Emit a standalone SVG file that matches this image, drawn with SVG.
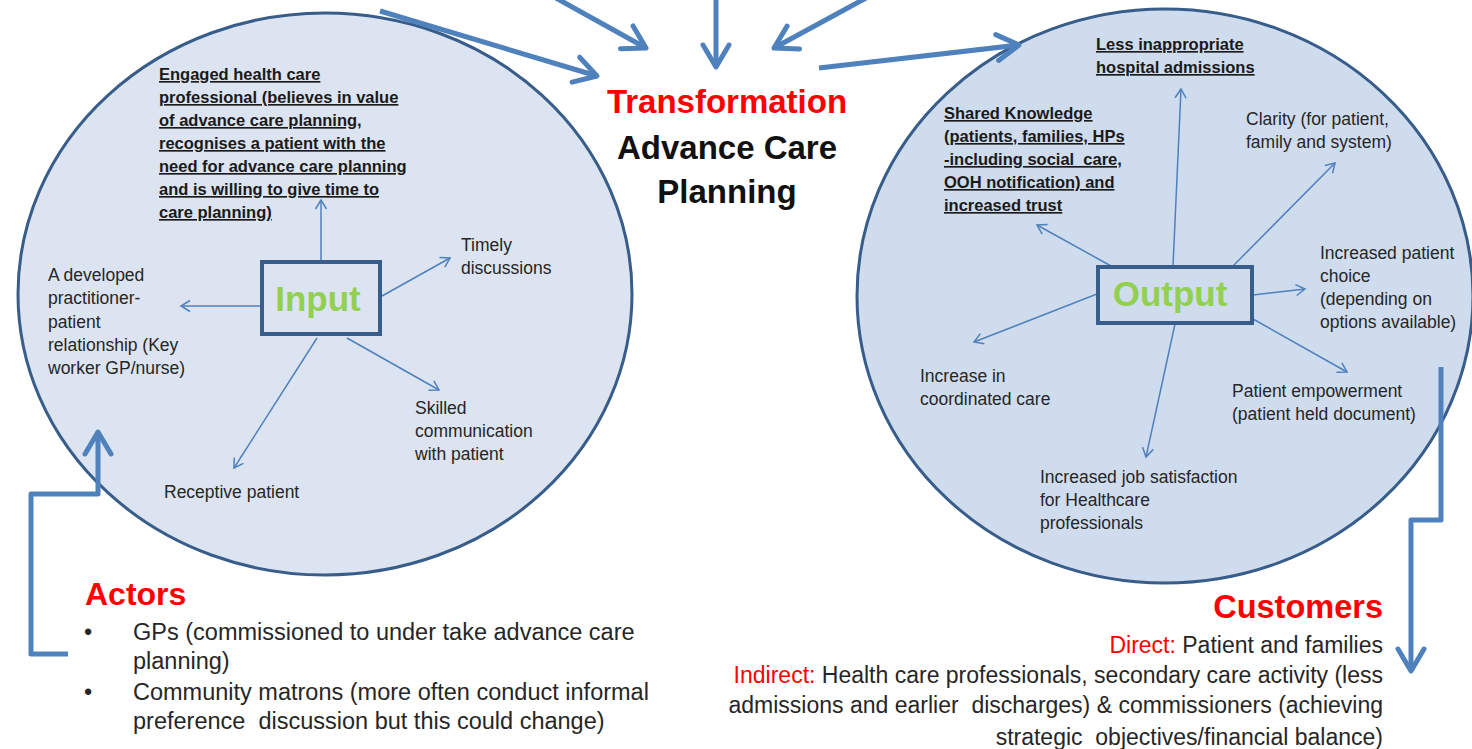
<svg xmlns="http://www.w3.org/2000/svg" width="1472" height="749" viewBox="0 0 1472 749">
<style>
.t{font-family:"Liberation Sans",Arial,sans-serif;font-size:17.5px;fill:#262626}
.b{font-family:"Liberation Sans",Arial,sans-serif;font-size:16.5px;font-weight:bold;fill:#1a1a1a;text-decoration:underline}
.title{font-family:"Liberation Sans",Arial,sans-serif;font-size:33px;font-weight:bold;text-anchor:middle}
.box{font-family:"Liberation Sans",Arial,sans-serif;font-size:35px;font-weight:bold;fill:#92d050;text-anchor:middle}
.big{fill:none;stroke:#4f81bd;stroke-width:5;stroke-linejoin:round}
.thin{fill:none;stroke:#4f81bd;stroke-width:1.5}
.bl{font-family:"Liberation Sans",Arial,sans-serif;font-size:23.5px;fill:#262626;white-space:pre}
.cu{font-family:"Liberation Sans",Arial,sans-serif;font-size:23px;fill:#262626;text-anchor:end;white-space:pre}
.red{fill:#ff0000}
</style>
<defs>
<marker id="bh" markerUnits="userSpaceOnUse" markerWidth="34" markerHeight="34" viewBox="0 0 34 34" refX="27" refY="17" orient="auto">
<path d="M5,4 L27,17 L5,30" fill="none" stroke="#4f81bd" stroke-width="5" stroke-linejoin="round" stroke-linecap="round"/>
</marker>
<marker id="th" markerUnits="userSpaceOnUse" markerWidth="14" markerHeight="14" viewBox="0 0 14 14" refX="11" refY="7" orient="auto">
<path d="M2,1.5 L11,7 L2,12.5" fill="none" stroke="#4f81bd" stroke-width="1.5"/>
</marker>
</defs>
<rect width="1472" height="749" fill="#ffffff"/>

<g id="input-circle">
<ellipse cx="325" cy="294" rx="307" ry="281" fill="#dbe4f0" stroke="#385d8a" stroke-width="3"/>
</g>
<g id="output-circle">
<ellipse cx="1165" cy="296" rx="308" ry="287" fill="#cfdcee" stroke="#385d8a" stroke-width="3"/>
</g>

<g id="connectors">
<line class="big" x1="380" y1="11" x2="597" y2="76" marker-end="url(#bh)"/>
<line class="big" x1="556" y1="-2" x2="646" y2="48" marker-end="url(#bh)"/>
<line class="big" x1="716" y1="-2" x2="716" y2="67" marker-end="url(#bh)"/>
<line class="big" x1="866" y1="-2" x2="774" y2="48" marker-end="url(#bh)"/>
<line class="big" x1="819" y1="68" x2="1019" y2="45" marker-end="url(#bh)"/>
<path class="big" d="M68,654 L31,654 L31,494 L98,494 L98,432" marker-end="url(#bh)"/>
<path class="big" d="M1441,367 L1441,520 L1411,520 L1411,671" marker-end="url(#bh)"/>

<line class="thin" x1="321" y1="262" x2="321" y2="200" marker-end="url(#th)"/>
<line class="thin" x1="262" y1="306" x2="181" y2="306" marker-end="url(#th)"/>
<line class="thin" x1="382" y1="296" x2="450" y2="258" marker-end="url(#th)"/>
<line class="thin" x1="347" y1="338" x2="439" y2="390" marker-end="url(#th)"/>
<line class="thin" x1="317" y1="338" x2="234" y2="468" marker-end="url(#th)"/>

<line class="thin" x1="1173" y1="266" x2="1181" y2="89" marker-end="url(#th)"/>
<line class="thin" x1="1111" y1="266" x2="1037" y2="225" marker-end="url(#th)"/>
<line class="thin" x1="1233" y1="266" x2="1335" y2="163" marker-end="url(#th)"/>
<line class="thin" x1="1253" y1="295" x2="1305" y2="289" marker-end="url(#th)"/>
<line class="thin" x1="1253" y1="319" x2="1347" y2="372" marker-end="url(#th)"/>
<line class="thin" x1="1175" y1="324" x2="1146" y2="457" marker-end="url(#th)"/>
<line class="thin" x1="1097" y1="294" x2="974" y2="342" marker-end="url(#th)"/>
</g>

<g id="title">
<text class="title red" x="727" y="113">Transformation</text>
<text class="title" x="727" y="159" fill="#111">Advance Care</text>
<text class="title" x="727" y="203" fill="#111">Planning</text>
</g>

<g id="input">
<rect x="262" y="262" width="118" height="72" fill="none" stroke="#385d8a" stroke-width="4"/>
<text class="box" x="318" y="311">Input</text>
</g>

<g id="engaged">
<text class="b" x="159" y="80">Engaged health care</text>
<text class="b" x="159" y="103">professional (believes in value</text>
<text class="b" x="159" y="126">of advance care planning,</text>
<text class="b" x="159" y="149">recognises a patient with the</text>
<text class="b" x="159" y="172">need for advance care planning</text>
<text class="b" x="159" y="195">and is willing to give time to</text>
<text class="b" x="159" y="218">care planning)</text>
</g>
<g id="timely">
<text class="t" x="461" y="251">Timely</text>
<text class="t" x="461" y="274">discussions</text>
</g>
<g id="relationship">
<text class="t" x="48" y="281">A developed</text>
<text class="t" x="48" y="304">practitioner-</text>
<text class="t" x="48" y="328">patient</text>
<text class="t" x="48" y="351">relationship (Key</text>
<text class="t" x="48" y="374">worker GP/nurse)</text>
</g>
<g id="skilled">
<text class="t" x="415" y="414">Skilled</text>
<text class="t" x="415" y="437">communication</text>
<text class="t" x="415" y="460">with patient</text>
</g>
<g id="receptive">
<text class="t" x="164" y="498">Receptive patient</text>
</g>

<g id="output">
<rect x="1098" y="267" width="154" height="56" fill="none" stroke="#385d8a" stroke-width="4"/>
<text class="box" x="1170" y="306">Output</text>
</g>
<g id="less-admissions">
<text class="b" x="1096" y="50">Less inappropriate</text>
<text class="b" x="1096" y="73">hospital admissions</text>
</g>
<g id="shared-knowledge">
<text class="b" x="944" y="119">Shared Knowledge</text>
<text class="b" x="944" y="142">(patients, families, HPs</text>
<text class="b" x="944" y="165" style="white-space:pre">-including social  care,</text>
<text class="b" x="944" y="188">OOH notification) and</text>
<text class="b" x="944" y="211">increased trust</text>
</g>
<g id="clarity">
<text class="t" x="1246" y="125">Clarity (for patient,</text>
<text class="t" x="1246" y="148">family and system)</text>
</g>
<g id="choice">
<text class="t" x="1320" y="259">Increased patient</text>
<text class="t" x="1320" y="282">choice</text>
<text class="t" x="1320" y="305">(depending on</text>
<text class="t" x="1320" y="328">options available)</text>
</g>
<g id="coordinated">
<text class="t" x="920" y="382">Increase in</text>
<text class="t" x="920" y="405">coordinated care</text>
</g>
<g id="empowerment">
<text class="t" x="1232" y="397">Patient empowerment</text>
<text class="t" x="1232" y="420">(patient held document)</text>
</g>
<g id="job-satisfaction">
<text class="t" x="1040" y="483">Increased job satisfaction</text>
<text class="t" x="1040" y="506">for Healthcare</text>
<text class="t" x="1040" y="529">professionals</text>
</g>

<g id="actors">
<text class="title red" x="85" y="605" style="text-anchor:start;font-size:32px">Actors</text>
<text class="bl" x="84" y="640">•</text>
<text class="bl" x="133" y="640">GPs (commissioned to under take advance care</text>
<text class="bl" x="133" y="669">planning)</text>
<text class="bl" x="84" y="700">•</text>
<text class="bl" x="133" y="700">Community matrons (more often conduct informal</text>
<text class="bl" x="133" y="729">preference  discussion but this could change)</text>
</g>

<g id="customers">
<text class="title red" x="1383" y="618" style="text-anchor:end;font-size:32.5px">Customers</text>
<text class="cu" x="1383" y="653"><tspan class="red">Direct:</tspan> Patient and families</text>
<text class="cu" x="1383" y="683"><tspan class="red">Indirect:</tspan> Health care professionals, secondary care activity (less</text>
<text class="cu" x="1383" y="713">admissions and earlier  discharges) &amp; commissioners (achieving</text>
<text class="cu" x="1383" y="745">strategic  objectives/financial balance)</text>
</g>
</svg>
